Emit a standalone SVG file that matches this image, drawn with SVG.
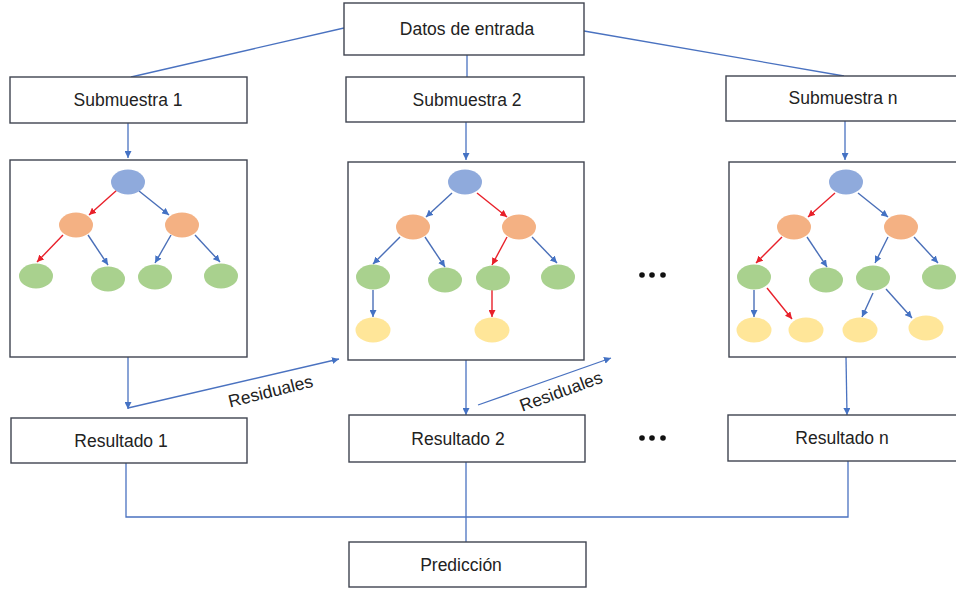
<svg xmlns="http://www.w3.org/2000/svg" width="956" height="591" viewBox="0 0 956 591">
<defs>
<marker id="ab" viewBox="0 0 10 10" refX="10" refY="5" markerWidth="7" markerHeight="7" markerUnits="userSpaceOnUse" orient="auto"><path d="M0,0 L10,5 L0,10 z" fill="#4472C4"/></marker>
<marker id="ar" viewBox="0 0 10 10" refX="10" refY="5" markerWidth="7" markerHeight="7" markerUnits="userSpaceOnUse" orient="auto"><path d="M0,0 L10,5 L0,10 z" fill="#E8202A"/></marker>
<style>
.box{fill:#fff;stroke:#3F4450;stroke-width:1.4}
.lbl{font-family:"Liberation Sans",Arial,sans-serif;font-size:17.5px;fill:#222;text-anchor:middle}
.c{fill:none;stroke:#4A72C0;stroke-width:1.3}
.ca{fill:none;stroke:#4A72C0;stroke-width:1.3;marker-end:url(#ab)}
.tb{fill:none;stroke:#4A6FB8;stroke-width:1.4;marker-end:url(#ab)}
.tr{fill:none;stroke:#E8202A;stroke-width:1.4;marker-end:url(#ar)}
.bl{fill:#8FAADC}
.or{fill:#F4B183}
.gr{fill:#A9D18E}
.ye{fill:#FFE699}
.dot{fill:#111}
</style>
</defs>
<rect width="956" height="591" fill="#fff"/>

<g id="connectors">
<line class="c" x1="344" y1="28" x2="131" y2="77"/>
<line class="c" x1="467" y1="55" x2="467" y2="77"/>
<line class="c" x1="584" y1="31" x2="844" y2="76"/>
<line class="ca" x1="128" y1="123" x2="128" y2="158"/>
<line class="ca" x1="466" y1="122" x2="466" y2="160"/>
<line class="ca" x1="845" y1="121" x2="845" y2="160"/>
<line class="ca" x1="128" y1="357" x2="128" y2="409"/>
<line class="ca" x1="128" y1="408" x2="339" y2="359"/>
<line class="ca" x1="466" y1="360" x2="466" y2="415"/>
<line class="ca" x1="478" y1="405" x2="611" y2="358"/>
<line class="ca" x1="846" y1="357" x2="847" y2="415"/>
<polyline class="c" points="126,463 126,517 848,517 848,461"/>
<line class="c" x1="466" y1="462" x2="466" y2="542"/>
</g>

<g id="datos"><rect class="box" x="344" y="3" width="240" height="52"/><text class="lbl" x="467" y="35">Datos de entrada</text></g>
<g id="sub1"><rect class="box" x="10" y="77" width="237" height="46"/><text class="lbl" x="128" y="106">Submuestra 1</text></g>
<g id="sub2"><rect class="box" x="346" y="77" width="238" height="45"/><text class="lbl" x="467" y="106">Submuestra 2</text></g>
<g id="subn"><rect class="box" x="726" y="76" width="232" height="45"/><text class="lbl" x="843" y="104">Submuestra n</text></g>

<g id="tree1">
<rect class="box" x="10" y="160" width="237" height="197"/>
<line class="tr" x1="117" y1="190" x2="89" y2="215"/>
<line class="tb" x1="139" y1="191" x2="169" y2="215"/>
<line class="tr" x1="63" y1="235" x2="37" y2="262"/>
<line class="tb" x1="88" y1="235" x2="108" y2="265"/>
<line class="tb" x1="171" y1="235" x2="155" y2="263"/>
<line class="tb" x1="195" y1="235" x2="220" y2="262"/>
<ellipse class="bl" cx="128" cy="182" rx="17" ry="12.5"/>
<ellipse class="or" cx="76" cy="225" rx="17" ry="12.5"/>
<ellipse class="or" cx="182" cy="225" rx="17" ry="12.5"/>
<ellipse class="gr" cx="36" cy="276" rx="17" ry="12.5"/>
<ellipse class="gr" cx="108" cy="279" rx="17" ry="12.5"/>
<ellipse class="gr" cx="155" cy="277" rx="17" ry="12.5"/>
<ellipse class="gr" cx="221" cy="276" rx="17" ry="12.5"/>
</g>

<g id="tree2">
<rect class="box" x="348" y="162" width="236" height="198"/>
<line class="tb" x1="452" y1="193" x2="426" y2="217"/>
<line class="tr" x1="477" y1="193" x2="507" y2="217"/>
<line class="tb" x1="400" y1="237" x2="373" y2="264"/>
<line class="tb" x1="425" y1="237" x2="445" y2="267"/>
<line class="tr" x1="507" y1="237" x2="492" y2="265"/>
<line class="tb" x1="532" y1="237" x2="557" y2="263"/>
<line class="tb" x1="373" y1="290" x2="373" y2="317"/>
<line class="tr" x1="492" y1="290" x2="492" y2="317"/>
<ellipse class="bl" cx="465" cy="182" rx="17" ry="12.5"/>
<ellipse class="or" cx="413" cy="227" rx="17" ry="12.5"/>
<ellipse class="or" cx="519" cy="227" rx="17" ry="12.5"/>
<ellipse class="gr" cx="373" cy="277" rx="17" ry="12.5"/>
<ellipse class="gr" cx="445" cy="280" rx="17" ry="12.5"/>
<ellipse class="gr" cx="493" cy="278" rx="17" ry="12.5"/>
<ellipse class="gr" cx="558" cy="277" rx="17" ry="12.5"/>
<ellipse class="ye" cx="373" cy="330" rx="17.5" ry="12.5"/>
<ellipse class="ye" cx="492" cy="330" rx="17.5" ry="12.5"/>
</g>

<g id="tree3">
<rect class="box" x="729" y="162" width="232" height="195"/>
<line class="tr" x1="835" y1="193" x2="808" y2="217"/>
<line class="tb" x1="858" y1="193" x2="888" y2="217"/>
<line class="tr" x1="782" y1="237" x2="756" y2="263"/>
<line class="tb" x1="807" y1="237" x2="827" y2="267"/>
<line class="tb" x1="888" y1="237" x2="875" y2="263"/>
<line class="tb" x1="914" y1="237" x2="938" y2="263"/>
<line class="tb" x1="754" y1="290" x2="754" y2="317"/>
<line class="tr" x1="767" y1="288" x2="792" y2="319"/>
<line class="tb" x1="873" y1="293" x2="862" y2="317"/>
<line class="tb" x1="886" y1="289" x2="912" y2="318"/>
<ellipse class="bl" cx="846" cy="182" rx="17" ry="12.5"/>
<ellipse class="or" cx="794" cy="227" rx="17" ry="12.5"/>
<ellipse class="or" cx="901" cy="227" rx="17" ry="12.5"/>
<ellipse class="gr" cx="754" cy="277" rx="17" ry="12.5"/>
<ellipse class="gr" cx="826" cy="280" rx="17" ry="12.5"/>
<ellipse class="gr" cx="873" cy="278" rx="17" ry="12.5"/>
<ellipse class="gr" cx="939" cy="277" rx="17" ry="12.5"/>
<ellipse class="ye" cx="754" cy="330" rx="17.5" ry="12.5"/>
<ellipse class="ye" cx="806" cy="330" rx="17.5" ry="12.5"/>
<ellipse class="ye" cx="860" cy="330" rx="17.5" ry="12.5"/>
<ellipse class="ye" cx="926" cy="328" rx="17.5" ry="12.5"/>
</g>

<g id="dots1"><circle class="dot" cx="642" cy="275" r="2.8"/><circle class="dot" cx="652" cy="275" r="2.8"/><circle class="dot" cx="663" cy="275" r="2.8"/></g>
<g id="dots2"><circle class="dot" cx="642" cy="438" r="2.8"/><circle class="dot" cx="652" cy="438" r="2.8"/><circle class="dot" cx="663" cy="438" r="2.8"/></g>

<g id="residuales1"><text class="lbl" transform="translate(272,397) rotate(-14)" x="0" y="0">Residuales</text></g>
<g id="residuales2"><text class="lbl" transform="translate(563,397) rotate(-20)" x="0" y="0">Residuales</text></g>

<g id="res1"><rect class="box" x="11" y="418" width="236" height="45"/><text class="lbl" x="121" y="447">Resultado 1</text></g>
<g id="res2"><rect class="box" x="349" y="415" width="236" height="47"/><text class="lbl" x="458" y="445">Resultado 2</text></g>
<g id="resn"><rect class="box" x="728" y="415" width="232" height="46"/><text class="lbl" x="842" y="444">Resultado n</text></g>
<g id="pred"><rect class="box" x="349" y="542" width="237" height="45"/><text class="lbl" x="461" y="571">Predicción</text></g>
</svg>
